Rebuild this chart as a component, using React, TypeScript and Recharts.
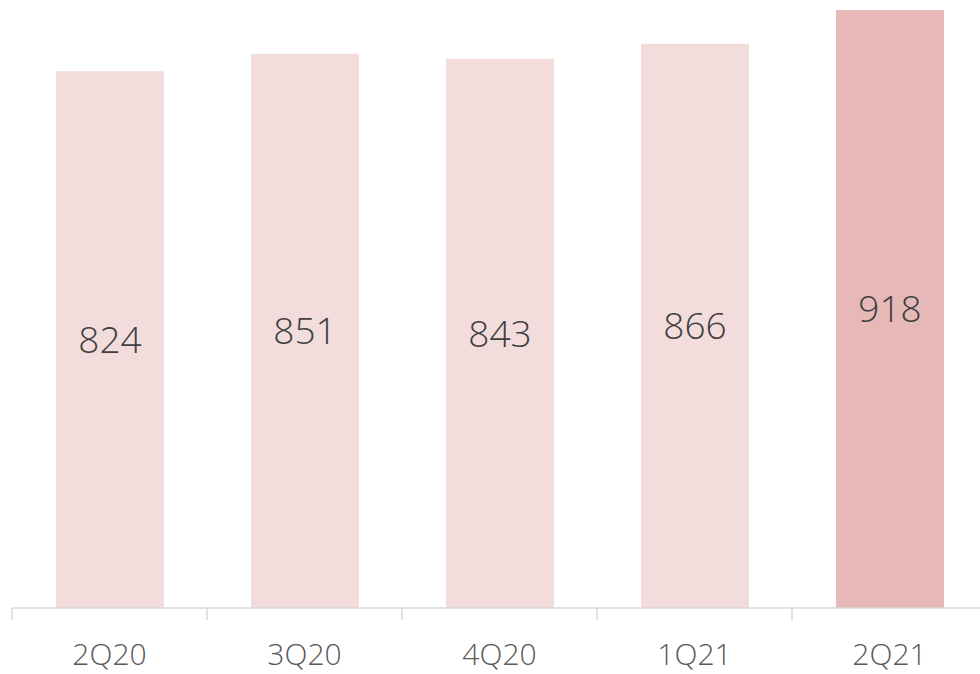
import React from 'react';
import { BarChart, Bar, XAxis, YAxis, Cell, LabelList } from 'recharts';

const quarters = ['2Q20', '3Q20', '4Q20', '1Q21', '2Q21'];
const values = [824, 851, 843, 866, 918];
const highlight = [false, false, false, false, true];

const data = quarters.map((q, i) => ({ name: q, value: values[i], hl: highlight[i] }));

const BAND = 195;

const QuarterTick = (props: any) => {
  const { x, payload } = props;
  const left = x - BAND / 2;
  return (
    <g>
      <line x1={left} y1={608} x2={left} y2={620} stroke="#d9d9d9" strokeWidth={1.5} />
      <text
        x={x}
        y={665}
        textAnchor="middle"
        fill="#595959"
        fontSize={30}
        fontWeight={300}
        fontFamily="Open Sans"
      >
        {payload.value}
      </text>
    </g>
  );
};

const App: React.FC = () => {
  return (
    <div style={{ position: 'absolute', left: 0, top: 0, width: 980, height: 674, overflow: 'hidden', background: '#fff' }}>
      <BarChart
        width={1000}
        height={674}
        data={data}
        margin={{ top: 10, right: 13, left: 12, bottom: 0 }}
      >
        <XAxis
          dataKey="name"
          height={66}
          axisLine={{ stroke: '#d9d9d9', strokeWidth: 1.5 }}
          tickLine={false}
          tick={<QuarterTick />}
          interval={0}
        />
        <YAxis hide domain={[0, 918]} />
        <Bar dataKey="value" barSize={108} isAnimationActive={false}>
          {data.map((d) => (
            <Cell key={d.name} fill={d.hl ? '#e6b8b8' : '#f2dcdc'} />
          ))}
          <LabelList
            dataKey="value"
            position="center"
            fill="#404040"
            fontSize={37}
            fontWeight={300}
            fontFamily="Open Sans"
          />
        </Bar>
      </BarChart>
    </div>
  );
};

export default App;
